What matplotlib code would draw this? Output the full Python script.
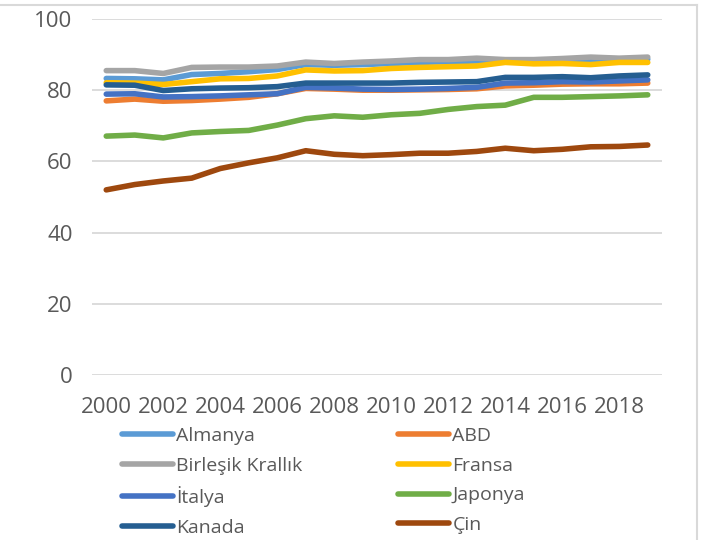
import matplotlib
matplotlib.use("Agg")
import matplotlib.pyplot as plt
from matplotlib.lines import Line2D

years = list(range(2000, 2020))
tick_years = years[::2]

almanya = [83.3, 83.2, 82.9, 84.4, 84.7, 85.2, 85.8, 87.2, 87.0, 87.2, 87.5, 87.8, 88.0, 88.2, 88.0, 88.0, 88.3, 88.5, 88.5, 88.7]
abd = [77.0, 77.5, 76.9, 77.1, 77.5, 78.0, 79.0, 80.5, 80.3, 80.0, 80.0, 80.1, 80.2, 80.4, 81.2, 81.4, 81.7, 81.8, 81.8, 82.0]
birlesik = [85.5, 85.5, 84.7, 86.4, 86.5, 86.5, 86.8, 87.9, 87.5, 87.9, 88.2, 88.6, 88.6, 89.0, 88.6, 88.6, 88.9, 89.3, 89.0, 89.3]
fransa = [82.1, 82.0, 81.6, 82.4, 83.2, 83.3, 84.0, 85.7, 85.4, 85.5, 86.1, 86.4, 86.6, 86.8, 87.8, 87.4, 87.5, 87.2, 87.8, 87.8]
italya = [78.9, 79.0, 78.1, 78.2, 78.4, 78.7, 79.0, 80.8, 80.6, 80.3, 80.2, 80.3, 80.5, 80.8, 82.0, 82.1, 82.4, 82.3, 82.6, 82.9]
japonya = [67.1, 67.4, 66.6, 68.0, 68.4, 68.7, 70.2, 72.0, 72.8, 72.4, 73.1, 73.5, 74.6, 75.4, 75.8, 78.0, 78.0, 78.2, 78.4, 78.7]
kanada = [81.5, 81.4, 79.9, 80.4, 80.6, 80.7, 81.0, 82.0, 82.0, 82.0, 82.0, 82.2, 82.3, 82.4, 83.6, 83.6, 83.8, 83.5, 84.0, 84.3]
cin = [52.0, 53.5, 54.5, 55.3, 58.0, 59.6, 61.0, 63.0, 62.0, 61.6, 61.9, 62.3, 62.3, 62.8, 63.7, 63.0, 63.4, 64.1, 64.2, 64.6]

series = [
    ("Almanya", almanya, "#5B9BD5"),
    ("ABD", abd, "#ED7D31"),
    ("Birleşik Krallık", birlesik, "#A5A5A5"),
    ("Fransa", fransa, "#FFC000"),
    ("İtalya", italya, "#4472C4"),
    ("Japonya", japonya, "#70AD47"),
    ("Kanada", kanada, "#255E91"),
    ("Çin", cin, "#9E480E"),
]

plt.rcParams['font.family'] = ['Open Sans', 'DejaVu Sans']

fig = plt.figure(figsize=(7.02, 5.40), dpi=100)
ax = fig.add_axes([92/702, 1-375/540, (662-92)/702, (375-19)/540])

handles = {}
for name, vals, col in series:
    ln, = ax.plot(years, vals, color=col, lw=4.0, solid_capstyle='round',
                  solid_joinstyle='round', label=name)
    handles[name] = ln

ax.set_xlim(1999.5, 2019.5)
ax.set_ylim(0, 100)
ax.set_yticks([0, 20, 40, 60, 80, 100])
ax.set_xticks(tick_years)
ax.set_xticklabels([str(y) for y in tick_years])
ax.grid(axis='y', color='#D9D9D9', lw=1.3)
ax.set_axisbelow(True)
for s in ax.spines.values():
    s.set_visible(False)
ax.tick_params(length=0, labelsize=16, colors='#595959')
ax.tick_params(axis='y', pad=14)
ax.tick_params(axis='x', pad=16)

col1 = ["Almanya", "Birleşik Krallık", "İtalya", "Kanada"]
col2 = ["ABD", "Fransa", "Japonya", "Çin"]
legkw = dict(loc='upper left', frameon=False, fontsize=14, handlelength=2.6,
             handletextpad=0.2, borderpad=0, borderaxespad=0, labelspacing=0.6,
             labelcolor='#595959')
leg1 = fig.legend([handles[n] for n in col1], col1,
                  bbox_to_anchor=(122/702, 1-427/540), **legkw)
leg2 = fig.legend([handles[n] for n in col2], col2,
                  bbox_to_anchor=(398/702, 1-427/540), **legkw)

fig.add_artist(Line2D([0, 697/702], [1-5/540, 1-5/540], transform=fig.transFigure,
                      color='#D9D9D9', lw=1.5))
fig.add_artist(Line2D([697/702, 697/702], [0, 1-5/540], transform=fig.transFigure,
                      color='#D9D9D9', lw=1.5))

fig.savefig("out.png", dpi=100)
